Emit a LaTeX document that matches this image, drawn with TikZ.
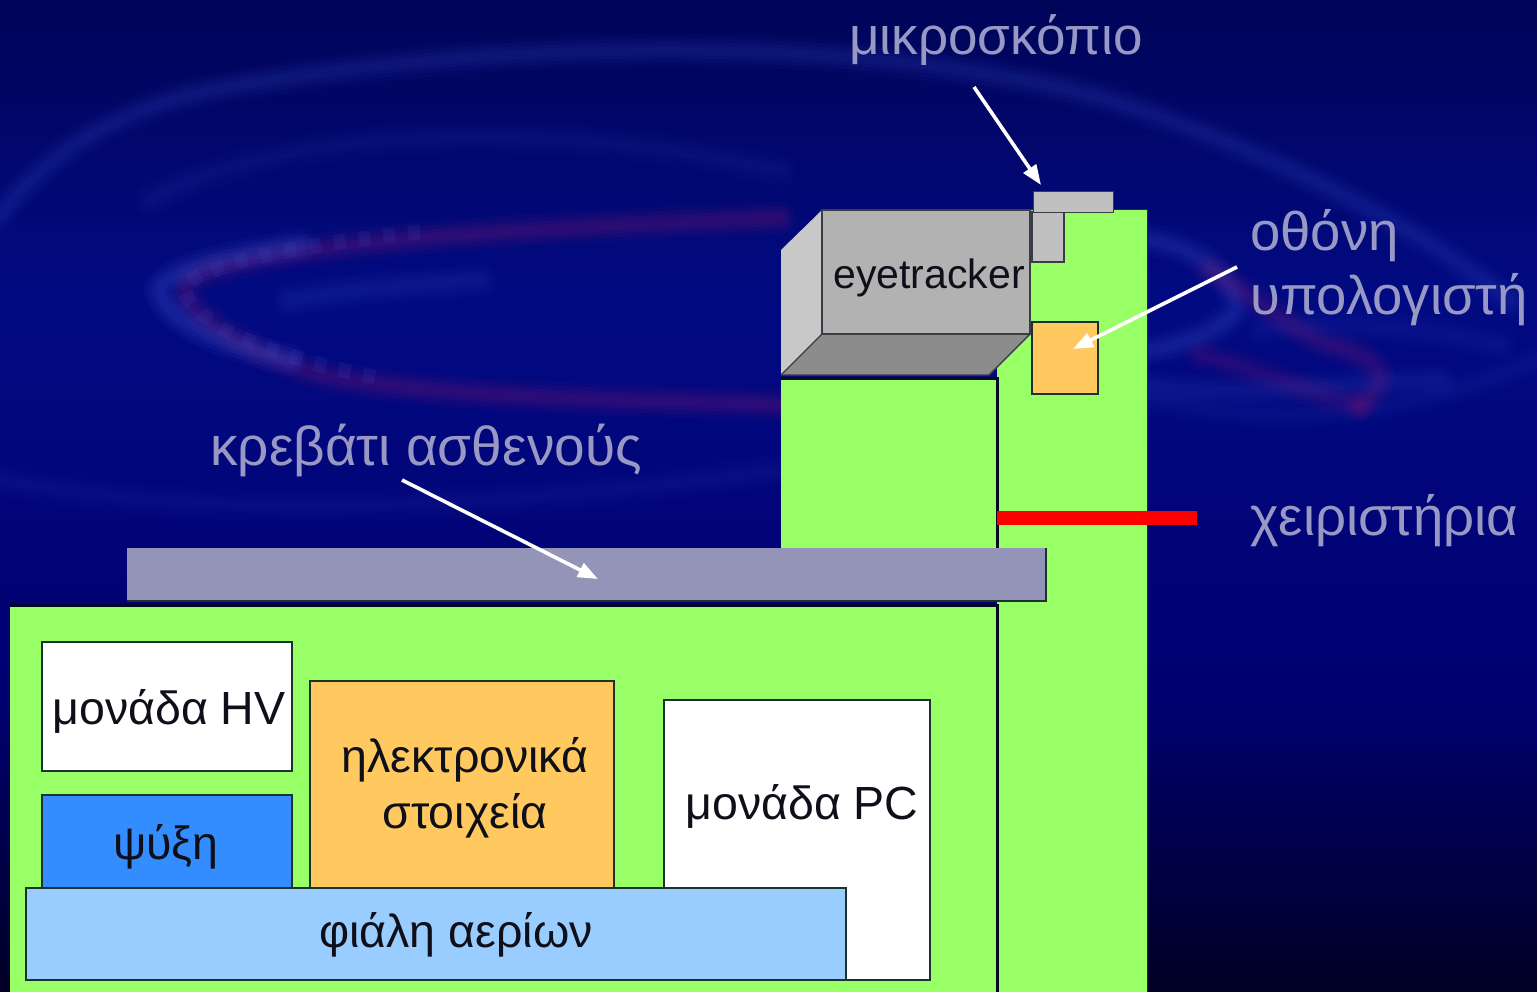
\documentclass[tikz,border=0pt]{standalone}
\usepackage{fontspec}
\setmainfont{Liberation Sans}
\usetikzlibrary{arrows.meta}
\definecolor{bgtop}{RGB}{0,4,88}
\definecolor{bgmid}{RGB}{2,10,130}
\definecolor{bglow}{RGB}{0,0,112}
\definecolor{bgend}{RGB}{0,0,36}
\definecolor{greenfill}{RGB}{153,255,102}
\definecolor{edgeline}{RGB}{30,50,45}
\definecolor{heavyline}{RGB}{4,8,40}
\definecolor{greyedge}{RGB}{60,60,70}
\definecolor{labelgrey}{RGB}{152,152,196}
\definecolor{bedfill}{RGB}{148,148,184}
\definecolor{orangefill}{RGB}{255,201,96}
\definecolor{coolfill}{RGB}{51,141,255}
\definecolor{gasfill}{RGB}{153,204,255}
\definecolor{camfront}{RGB}{178,178,178}
\definecolor{camside}{RGB}{200,200,200}
\definecolor{cambottom}{RGB}{140,140,140}
\definecolor{scopefill}{RGB}{192,192,192}
\definecolor{redbar}{RGB}{255,0,0}
\definecolor{ringred}{RGB}{170,30,110}
\definecolor{ringblue}{RGB}{70,95,215}
\definecolor{inktext}{RGB}{15,15,25}
\newcommand{\softcurve}[3]{%
  \foreach \w/\o in {32/.03,24/.035,16/.04,9/.04}{%
    \draw[#1,line width=\w pt,opacity=\o*#2,line cap=round] #3;}}
\tikzset{
  block/.style={draw=edgeline,line width=1.5pt,anchor=north west,inner sep=0pt,outer sep=0pt},
  blocktext/.style={text=inktext,font=\fontsize{46.5}{56}\selectfont,inner sep=0pt,align=center},
  callout/.style={text=labelgrey,font=\fontsize{54.5}{64}\selectfont,inner sep=0pt,align=left},
  pointer/.style={draw=white,line width=3.6pt,-{Triangle[length=20pt,width=15pt]}},
  facet/.style={draw=greyedge,line width=1.4pt,line join=round}
}
\begin{document}
\begin{tikzpicture}[x=1pt,y=-1pt]
\useasboundingbox (0,0) rectangle (1537,992);
% background
\begin{scope}
\clip (0,0) rectangle (1537,992);
\shade[top color=bgtop,bottom color=bgmid] (0,0) rectangle (1537,300);
\shade[top color=bgmid,bottom color=bglow] (0,300) rectangle (1537,700);
\shade[top color=bglow,bottom color=bgend] (0,700) rectangle (1537,992);
% outer arcs
\softcurve{ringblue}{1.5}{(0,215) .. controls (50,150) and (120,105) .. (240,85) .. controls (500,40) and (900,30) .. (1140,110) .. controls (1300,165) and (1420,230) .. (1510,300)}
\softcurve{ringblue}{.8}{(150,200) .. controls (250,140) and (500,110) .. (780,170)}
\softcurve{ringblue}{.8}{(0,480) .. controls (200,520) and (500,510) .. (780,470)}
\softcurve{ringblue}{.8}{(1150,400) .. controls (1300,430) and (1420,410) .. (1537,360)}
% swirl: left loop
\softcurve{ringred}{1.9}{(780,218) .. controls (600,225) and (250,240) .. (190,280) .. controls (170,305) and (230,345) .. (320,375) .. controls (450,400) and (650,400) .. (780,405)}
\softcurve{ringblue}{2.2}{(300,245) .. controls (230,255) and (165,270) .. (160,290) .. controls (165,320) and (220,345) .. (290,360)}
\draw[ringblue,line width=15pt,opacity=.11,dash pattern=on 12pt off 13pt] (420,232) .. controls (300,245) and (190,265) .. (185,290) .. controls (190,320) and (260,355) .. (380,378);
\softcurve{ringblue}{1.2}{(290,300) .. controls (340,290) and (400,285) .. (480,280)}
% swirl: right hook
\softcurve{ringblue}{1.8}{(1150,240) .. controls (1210,250) and (1240,290) .. (1235,310) .. controls (1225,330) and (1180,345) .. (1150,350)}
\softcurve{ringred}{1.7}{(1210,270) .. controls (1260,300) and (1290,330) .. (1330,345) .. controls (1370,355) and (1400,375) .. (1360,405)}
\softcurve{ringred}{1.4}{(1200,355) .. controls (1260,370) and (1300,390) .. (1360,405)}
\softcurve{ringblue}{1.2}{(1150,385) .. controls (1250,400) and (1350,380) .. (1440,380)}
\softcurve{ringblue}{.8}{(1260,330) .. controls (1350,320) and (1440,330) .. (1500,345)}
\end{scope}
% green housing
\node[block,draw=none,fill=greenfill,minimum width=150pt,minimum height=790pt] (tower) at (997,210) {};
\node[block,draw=none,fill=greenfill,minimum width=216pt,minimum height=172pt] (column) at (781,378) {};
\node[block,draw=none,fill=greenfill,minimum width=987pt,minimum height=395pt] (base) at (10,605) {};
\draw[heavyline,line width=3pt] (column.north west) -- (column.north east) -- (column.south east);
\draw[heavyline,line width=3pt] (base.north west) -- (base.north east) -- (base.south east);
\draw[edgeline,line width=1pt] (tower.north west) -- (tower.north east) -- (tower.south east);
% bed
\node[block,draw=none,fill=bedfill,minimum width=919pt,minimum height=53pt] (bed) at (127,548) {};
\draw[edgeline,line width=1.4pt] (bed.north east) -- (bed.south east) -- (bed.south west);
% control bar
\node[block,draw=none,fill=redbar,minimum width=200pt,minimum height=14pt] (bar) at (997,511) {};
% eyetracker cuboid
\coordinate (camA) at (781,250);
\coordinate (camB) at (822,210);
\coordinate (camC) at (822,334);
\coordinate (camD) at (781,375);
\coordinate (camE) at (989,375);
\coordinate (camF) at (1030,334);
\fill[camside] (camA) -- (camB) -- (camC) -- (camD) -- cycle;
\fill[cambottom] (camC) -- (camF) -- (camE) -- (camD) -- cycle;
\draw[facet] (camB) -- (camC) -- (camD);
\draw[facet] (camC) -- (camF) -- (camE) -- (camD);
\node[block,draw=greyedge,fill=camfront,minimum width=208pt,minimum height=124pt] (camera) at (822,210) {};
\node[blocktext,font=\fontsize{41}{48}\selectfont] (camtext) at (929,278) {eyetracker};
% microscope
\node[block,draw=greyedge,fill=scopefill,minimum width=32pt,minimum height=50pt] (scopeb) at (1032,212) {};
\node[block,draw=greyedge,line width=.8pt,fill=scopefill,minimum width=80pt,minimum height=21pt] (scopet) at (1033,191) {};
% screen
\node[block,fill=orangefill,minimum width=66pt,minimum height=72pt] (screen) at (1032,322) {};
% inner units
\node[block,fill=white,minimum width=250pt,minimum height=129pt] (hv) at (42,642) {};
\node[blocktext] (hvtext) at (169,711) {μονάδα HV};
\node[block,fill=coolfill,minimum width=250pt,minimum height=95pt] (cool) at (42,795) {};
\node[blocktext] (cooltext) at (166,847) {ψύξη};
\node[block,fill=orangefill,minimum width=304pt,minimum height=208pt] (elec) at (310,681) {};
\node[blocktext] (electext) at (465,788) {ηλεκτρονικά\\στοιχεία};
\node[block,fill=white,minimum width=266pt,minimum height=280pt] (pc) at (664,700) {};
\node[blocktext] (pctext) at (802,806) {μονάδα PC};
\node[block,fill=gasfill,minimum width=820pt,minimum height=92pt] (gas) at (26,888) {};
\node[blocktext] (gastext) at (456,935) {φιάλη αερίων};
% callouts
\node[callout,font=\fontsize{53}{64}\selectfont] (lmicro) at (996,40) {μικροσκόπιο};
\node[callout,anchor=west] (lscreen) at (1250,268) {οθόνη\\υπολογιστή};
\node[callout,font=\fontsize{55}{64}\selectfont] (lbed) at (426,450) {κρεβάτι ασθενούς};
\node[callout,anchor=west] (lctrl) at (1250,521) {χειριστήρια};
\coordinate (amicro) at (974,87);
\coordinate (tmicro) at (1041,185);
\coordinate (ascreen) at (1237,267);
\coordinate (tscreen) at (1073,349);
\coordinate (abed) at (402,480);
\coordinate (tbed) at (598,579);
\draw[pointer] (amicro) -- (tmicro);
\draw[pointer] (ascreen) -- (tscreen);
\draw[pointer] (abed) -- (tbed);
\end{tikzpicture}
\end{document}
